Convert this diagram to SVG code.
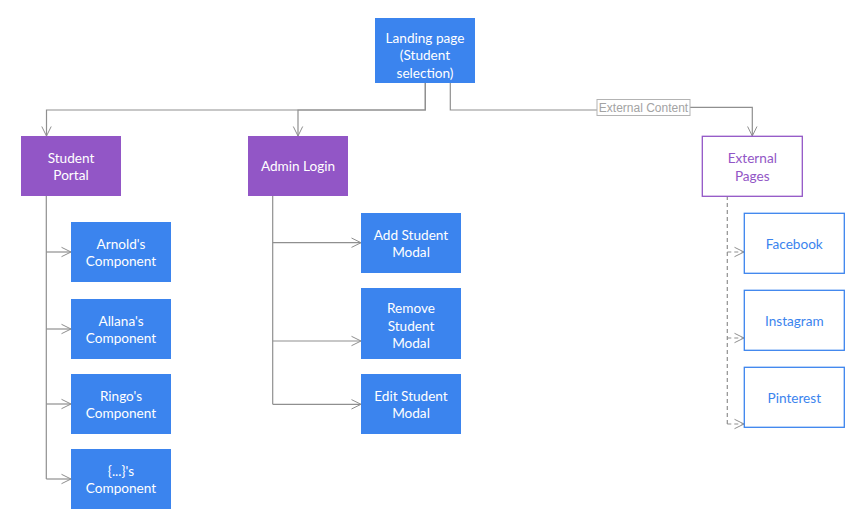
<svg xmlns="http://www.w3.org/2000/svg" width="850" height="518" viewBox="0 0 850 518">
<defs>
<marker id="arr" markerUnits="userSpaceOnUse" markerWidth="14" markerHeight="14" refX="11" refY="7" orient="auto">
<path d="M1.5,2.3 L11,7 L1.5,11.7" fill="none" stroke="#8f8f8f" stroke-width="1"/>
</marker>
</defs>
<style>
.blue{fill:#3b84ee;}
.purple{fill:#9256c6;}
.outP{fill:#ffffff;stroke:#9256c6;stroke-width:1.3;}
.outB{fill:#ffffff;stroke:#3b84ee;stroke-width:1.3;}
.t{font-family:Lato,"Noto Sans",sans-serif;font-size:13.6px;text-anchor:middle;dominant-baseline:central;}
.w{fill:#ffffff;}
.tp{fill:#9256c6;}
.tb{fill:#3b84ee;}
.c{fill:none;stroke:#8f8f8f;stroke-width:1.2;}
.d{fill:none;stroke:#8f8f8f;stroke-width:1.2;stroke-dasharray:4,3;}
.lbl{font-family:"Liberation Sans",Arial,sans-serif;font-size:12px;fill:#a3a3a3;text-anchor:middle;dominant-baseline:central;}
</style>
<rect width="850" height="518" fill="#ffffff"/>
<g id="connectors">
<path class="c" d="M425.3,83 V110 H46.5 V136" marker-end="url(#arr)"/>
<path class="c" d="M425.3,83 V110 H298 V136" marker-end="url(#arr)"/>
<path class="c" d="M450.3,83 V110 H597"/>
<path class="c" d="M690,107.3 H752.3 V136" marker-end="url(#arr)"/>
<g>
<rect x="597" y="99.5" width="93" height="16" fill="#ffffff" stroke="#b3b3b3" stroke-width="1"/>
<text class="lbl" x="643.5" y="107.5">External Content</text>
</g>
<path class="c" d="M46.3,196 V479"/>
<path class="c" d="M46.3,252 H71" marker-end="url(#arr)"/>
<path class="c" d="M46.3,329 H71" marker-end="url(#arr)"/>
<path class="c" d="M46.3,404 H71" marker-end="url(#arr)"/>
<path class="c" d="M46.3,479 H71" marker-end="url(#arr)"/>
<path class="c" d="M272.7,190 V404.3"/>
<path class="c" d="M272.7,242.7 H361" marker-end="url(#arr)"/>
<path class="c" d="M272.7,341 H361" marker-end="url(#arr)"/>
<path class="c" d="M272.7,404.3 H361" marker-end="url(#arr)"/>
<path class="d" d="M727.3,196 V424"/>
<path class="d" d="M727.3,252 H744" marker-end="url(#arr)"/>
<path class="d" d="M727.3,338 H744" marker-end="url(#arr)"/>
<path class="d" d="M727.3,424 H744" marker-end="url(#arr)"/>
</g>
<g id="landing">
<rect class="blue" x="375" y="18" width="100" height="65"/>
<text class="t w" x="425" y="37.7">Landing page</text>
<text class="t w" x="425" y="55.3">(Student</text>
<text class="t w" x="425" y="73">selection)</text>
</g>
<g id="student-portal">
<rect class="purple" x="21" y="136" width="100" height="60"/>
<text class="t w" x="71" y="157.5">Student</text>
<text class="t w" x="71" y="175.2">Portal</text>
</g>
<g id="admin-login">
<rect class="purple" x="248" y="136" width="100" height="60"/>
<text class="t w" x="298" y="166.3">Admin Login</text>
</g>
<g id="external-pages">
<rect class="outP" x="702.3" y="136.3" width="100" height="60"/>
<text class="t tp" x="752.3" y="158">External</text>
<text class="t tp" x="752.3" y="176">Pages</text>
</g>
<g id="arnold">
<rect class="blue" x="71" y="222" width="100" height="60"/>
<text class="t w" x="121" y="243.5">Arnold's</text>
<text class="t w" x="121" y="261.3">Component</text>
</g>
<g id="allana">
<rect class="blue" x="71" y="299" width="100" height="60"/>
<text class="t w" x="121" y="320.5">Allana's</text>
<text class="t w" x="121" y="338.3">Component</text>
</g>
<g id="ringo">
<rect class="blue" x="71" y="374" width="100" height="60"/>
<text class="t w" x="121" y="395.5">Ringo's</text>
<text class="t w" x="121" y="413.3">Component</text>
</g>
<g id="other">
<rect class="blue" x="71" y="449" width="100" height="60"/>
<text class="t w" x="121" y="470.5">{...}'s</text>
<text class="t w" x="121" y="488.3">Component</text>
</g>
<g id="add-student">
<rect class="blue" x="361" y="213" width="100" height="60"/>
<text class="t w" x="411" y="234.5">Add Student</text>
<text class="t w" x="411" y="252.3">Modal</text>
</g>
<g id="remove-student">
<rect class="blue" x="361" y="288" width="100" height="71"/>
<text class="t w" x="411" y="307.5">Remove</text>
<text class="t w" x="411" y="325.5">Student</text>
<text class="t w" x="411" y="343.3">Modal</text>
</g>
<g id="edit-student">
<rect class="blue" x="361" y="374" width="100" height="60"/>
<text class="t w" x="411" y="395.5">Edit Student</text>
<text class="t w" x="411" y="413.3">Modal</text>
</g>
<g id="facebook">
<rect class="outB" x="744.3" y="213.3" width="100" height="60"/>
<text class="t tb" x="794.3" y="244">Facebook</text>
</g>
<g id="instagram">
<rect class="outB" x="744.3" y="290.3" width="100" height="60"/>
<text class="t tb" x="794.3" y="321">Instagram</text>
</g>
<g id="pinterest">
<rect class="outB" x="744.3" y="367.3" width="100" height="60"/>
<text class="t tb" x="794.3" y="398">Pinterest</text>
</g>
</svg>
